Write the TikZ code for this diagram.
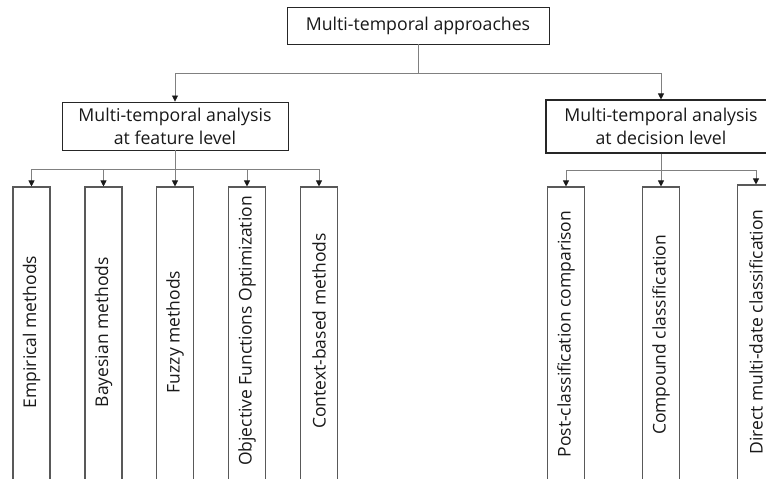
\documentclass[tikz,border=0pt]{standalone}
\usepackage{fontspec}
\setmainfont{Open Sans}
\usetikzlibrary{arrows.meta}
\tikzset{
  mainbox/.style={draw=black!85, line width=0.9pt, inner sep=0pt, align=center, font=\fontsize{17.7}{23}\selectfont, text=black!90},
  childbox/.style={draw=black!65, line width=1.1pt, inner sep=0pt, minimum width=37pt, minimum height=300pt},
  childtext/.style={rotate=90, inner sep=0pt, font=\fontsize{17.5}{20}\selectfont, text=black!90},
  conn/.style={draw=black!50, line width=0.8pt},
  arr/.style={conn, -{Triangle[width=6pt,length=6pt,fill=black!90,color=black!90]}}
}
\begin{document}
\begin{tikzpicture}[x=1pt,y=-1pt]
\useasboundingbox (0,0) rectangle (766,479);
\fill[white] (0,0) rectangle (766,479);
% main boxes
\node[mainbox, minimum width=262pt, minimum height=37pt] (top) at (418,25.5) {Multi-temporal approaches};
\node[mainbox, minimum width=226pt, minimum height=48pt] (feat) at (175,126) {Multi-temporal analysis\\at feature level};
\node[mainbox, minimum width=230pt, minimum height=53pt, line width=1.1pt] (dec) at (661,126.5) {Multi-temporal analysis\\at decision level};
% top connectors
\coordinate (tj) at (418,73);
\draw[conn] (top.south) -- (tj);
\draw[arr] (tj) -| (feat.north);
\draw[arr] (tj) -| (dec.north);
% feature children
\node[childbox] (c1) at (31.5,337) {};
\node[childbox] (c2) at (103.5,337) {};
\node[childbox] (c3) at (175,337) {};
\node[childbox] (c4) at (247,337) {};
\node[childbox] (c5) at (319,337) {};
\node[childtext] (t1) at (c1.center|-0,332) {Empirical methods};
\node[childtext] (t2) at (c2.center|-0,332) {Bayesian methods};
\node[childtext] (t3) at (c3.center|-0,332) {Fuzzy methods};
\node[childtext] (t4) at (c4.center|-0,331) {Objective Functions Optimization};
\node[childtext] (t5) at (c5.center|-0,331) {Context-based methods};
\coordinate (fj) at (175,169);
\draw[conn] (feat.south) -- (fj);
\foreach \c in {c1,c2,c3,c4,c5} \draw[arr] (fj) -| (\c.north);
% decision children
\node[childbox] (d1) at (566,337) {};
\node[childbox] (d2) at (661,337) {};
\node[childbox] (d3) at (756,335) {};
\node[childtext] (u1) at (d1.center|-0,334) {Post-classification comparison};
\node[childtext] (u2) at (d2.center|-0,335) {Compound classification};
\node[childtext] (u3) at (d3.center|-0,332) {Direct multi-date classification};
\coordinate (dj) at (661,170);
\draw[conn] (dec.south) -- (dj);
\foreach \c in {d1,d2,d3} \draw[arr] (dj) -| (\c.north);
\end{tikzpicture}
\end{document}
